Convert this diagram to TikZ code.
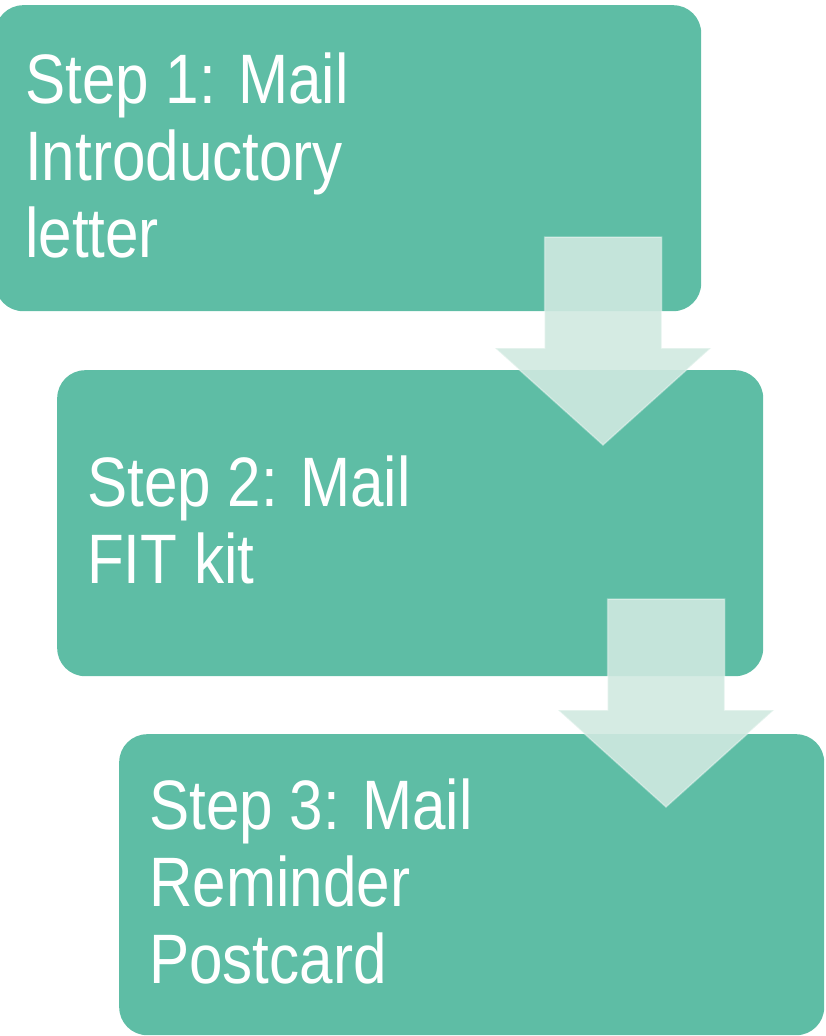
\documentclass[tikz,border=0pt]{standalone}
\usepackage{fontspec}
\setmainfont[FakeStretch=0.86]{Liberation Sans}
\definecolor{teal}{RGB}{94,189,165}
\definecolor{mint}{RGB}{208,233,224}
\begin{document}
\begin{tikzpicture}[x=1pt,y=-1pt,
  stepbox/.style={fill=teal,draw=none,rounded corners=28pt,inner sep=0pt,
    minimum width=706pt,minimum height=306pt,anchor=north west},
  steptext/.style={text=white,font=\fontsize{70}{77}\selectfont,align=left,
    anchor=west,inner sep=0pt},
  blockarrow/.style={fill=mint,fill opacity=0.9,draw=white,draw opacity=0.35,line width=1.5pt,line join=miter}]
\useasboundingbox (0,0) rectangle (825,1036);
\node[stepbox] (b1) at (-5,5) {};
\node[stepbox] (b2) at (57,370) {};
\node[stepbox,minimum width=705pt,minimum height=301pt] (b3) at (119,734) {};
\node[steptext] (t1) at ([xshift=30pt,yshift=3pt]b1.west) {Step 1: Mail\\Introductory\\letter};
\node[steptext] (t2) at ([xshift=30pt,yshift=3pt]b2.west) {Step 2: Mail\\FIT kit};
\node[steptext] (t3) at ([xshift=30pt,yshift=3pt]b3.west) {Step 3: Mail\\Reminder\\Postcard};
\coordinate (a1) at (603,237);
\coordinate (a2) at (666,599);
\foreach \a in {a1,a2}{
  \draw[blockarrow] ([xshift=-58.5pt]\a) -- ([xshift=58.5pt]\a) -- ([xshift=58.5pt,yshift=-111pt]\a)
    -- ([xshift=108pt,yshift=-111pt]\a) -- ([yshift=-208pt]\a) -- ([xshift=-108pt,yshift=-111pt]\a)
    -- ([xshift=-58.5pt,yshift=-111pt]\a) -- cycle;
}
\end{tikzpicture}
\end{document}
